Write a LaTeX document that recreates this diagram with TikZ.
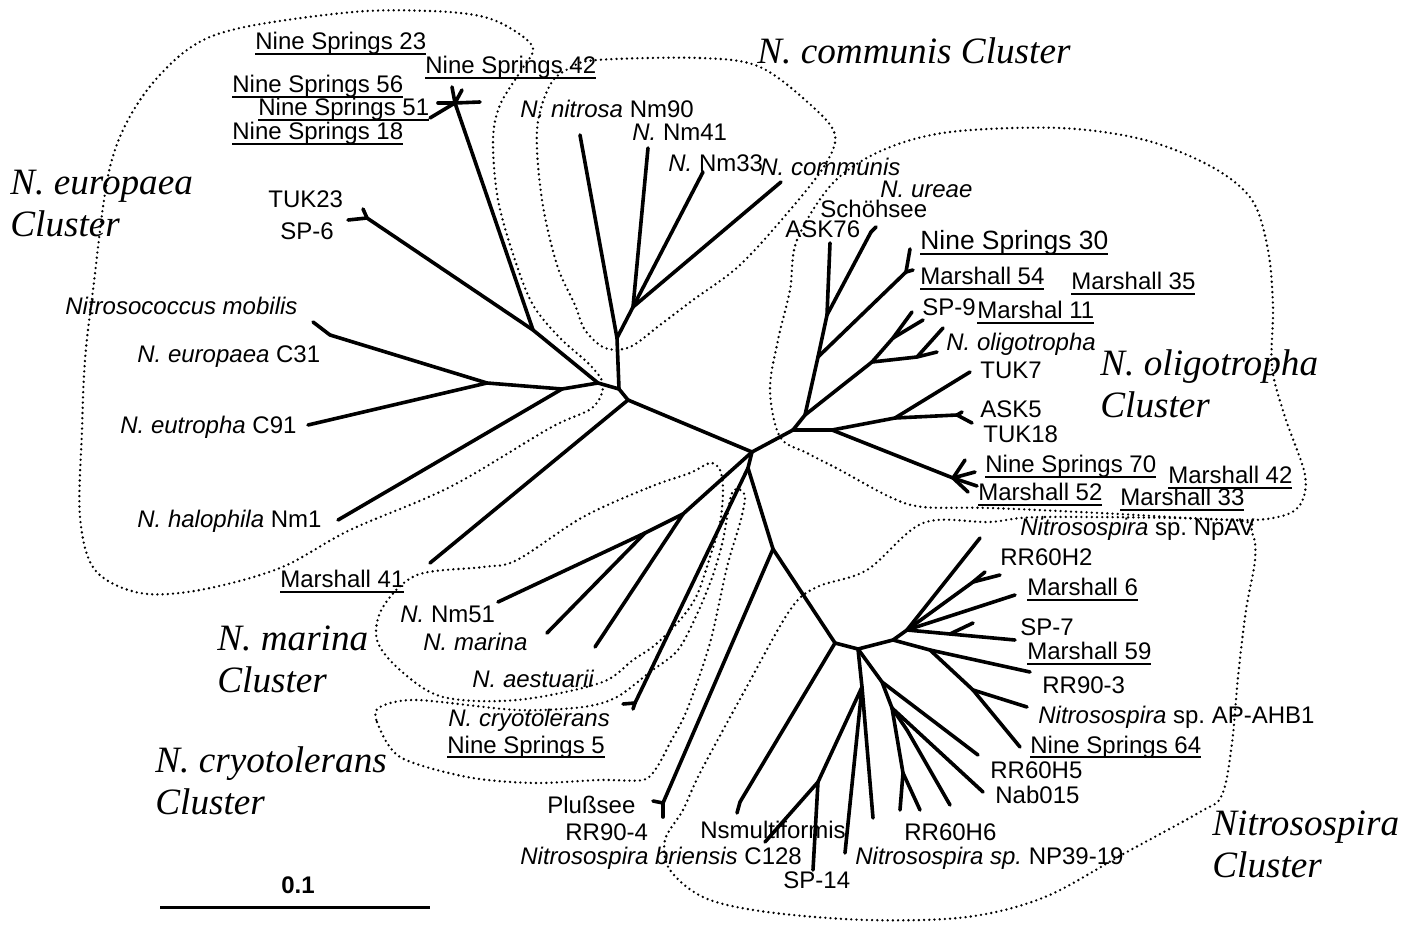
\documentclass[tikz,border=0pt]{standalone}
\usepackage{fontspec}
\setmainfont{Liberation Sans}
\newfontfamily\clusterfont{Liberation Serif}
\newcommand{\undl}[1]{\setbox0=\hbox{#1}\rlap{\rule[-2.6pt]{\wd0}{1pt}}\box0}
\frenchspacing
\tikzset{
  branch/.style={line width=1.8pt, line cap=round, line join=round},
  hull/.style={line width=1.3pt, line cap=round, dash pattern=on 0pt off 2.6pt},
  taxon/.style={inner sep=0pt, anchor=base west, font=\fontsize{12}{14}\selectfont},
  clade/.style={inner sep=0pt, anchor=base west, align=left, font=\clusterfont\itshape\fontsize{18.6}{21}\selectfont},
}

\begin{document}
\begin{tikzpicture}[x=0.5pt, y=-0.5pt]
  \useasboundingbox (0,0) rectangle (1405,925);

  % junctions
  \coordinate (c0) at (752,452);
  \coordinate (l1) at (628,400);
  \coordinate (l2) at (619,389);
  \coordinate (l3) at (598,383);
  \coordinate (l4) at (533,330);
  \coordinate (l5) at (562,389);
  \coordinate (l6) at (487,383);
  \coordinate (l7) at (330,335);
  \coordinate (l8) at (367,218);
  \coordinate (l9) at (455,103);
  \coordinate (k1) at (617,338);
  \coordinate (k2) at (633,307);
  \coordinate (r1) at (793,430);
  \coordinate (r2) at (805,415);
  \coordinate (r3) at (818,357);
  \coordinate (r4) at (827,315);
  \coordinate (r5) at (871,232);
  \coordinate (r6) at (906,272);
  \coordinate (r7) at (872,362);
  \coordinate (r8) at (893,338);
  \coordinate (r9) at (917,357);
  \coordinate (r10) at (832,430);
  \coordinate (r11) at (895,418);
  \coordinate (r12) at (957,415);
  \coordinate (r13) at (953,478);
  \coordinate (d1) at (748,468);
  \coordinate (d2) at (773,549);
  \coordinate (d3) at (683,514);
  \coordinate (d4) at (645,533);
  \coordinate (d5) at (635,703);
  \coordinate (d6) at (663,803);
  \coordinate (d7) at (835,643);
  \coordinate (d8) at (740,802);
  \coordinate (d9) at (858,649);
  \coordinate (d10) at (893,640);
  \coordinate (d11) at (862,687);
  \coordinate (d12) at (818,782);
  \coordinate (d13) at (882,682);
  \coordinate (d14) at (892,708);
  \coordinate (d15) at (903,773);
  \coordinate (d16) at (907,730);
  \coordinate (d17) at (930,650);
  \coordinate (d18) at (973,690);
  \coordinate (d19) at (907,630);
  \coordinate (d20) at (973,582);
  \coordinate (d21) at (950,634);

  % tips
  \coordinate (t-m41) at (430,563);
  \coordinate (t-hal) at (338,520);
  \coordinate (t-c91) at (308,425);
  \coordinate (t-mob) at (313,322);
  \coordinate (t-tuk23) at (363,209);
  \coordinate (t-sp6) at (348,220);
  \coordinate (t-ns-a) at (452,87);
  \coordinate (t-ns-b) at (462,90);
  \coordinate (t-ns-c) at (438,103);
  \coordinate (t-ns-d) at (430,118);
  \coordinate (t-ns-e) at (480,102);
  \coordinate (t-nm90) at (580,135);
  \coordinate (t-nm41) at (648,148);
  \coordinate (t-nm33) at (703,172);
  \coordinate (t-com) at (781,182);
  \coordinate (t-ask76) at (830,243);
  \coordinate (t-sch) at (876,227);
  \coordinate (t-ns30) at (910,249);
  \coordinate (t-m54) at (913,270);
  \coordinate (t-sp9) at (912,312);
  \coordinate (t-m11) at (923,320);
  \coordinate (t-oli) at (943,328);
  \coordinate (t-m35) at (937,352);
  \coordinate (t-tuk7) at (970,372);
  \coordinate (t-ask5) at (962,412);
  \coordinate (t-tuk18) at (972,423);
  \coordinate (t-ns70) at (965,460);
  \coordinate (t-m42) at (975,472);
  \coordinate (t-m52) at (968,492);
  \coordinate (t-m33) at (977,486);
  \coordinate (t-nm51) at (498,602);
  \coordinate (t-mar) at (547,633);
  \coordinate (t-aes) at (595,647);
  \coordinate (t-cry) at (623,704);
  \coordinate (t-ns5) at (633,709);
  \coordinate (t-plu) at (653,801);
  \coordinate (t-rr904) at (663,817);
  \coordinate (t-nsm) at (737,813);
  \coordinate (t-c128) at (765,842);
  \coordinate (t-sp14) at (813,870);
  \coordinate (t-np-a) at (845,853);
  \coordinate (t-np-b) at (873,818);
  \coordinate (t-h6-a) at (900,810);
  \coordinate (t-h6-b) at (920,810);
  \coordinate (t-h6-c) at (950,805);
  \coordinate (t-nab) at (983,792);
  \coordinate (t-h5) at (978,755);
  \coordinate (t-ns64) at (1020,747);
  \coordinate (t-ahb) at (1027,707);
  \coordinate (t-rr903) at (1030,672);
  \coordinate (t-sp7) at (1015,640);
  \coordinate (t-sp7b) at (973,623);
  \coordinate (t-m6) at (1015,595);
  \coordinate (t-h2) at (1000,575);
  \coordinate (t-h2b) at (985,572);
  \coordinate (t-npav) at (980,538);

  % tree
  \foreach \a/\b in {c0/l1, l1/l2, l2/l3, l3/l4, l3/l5, l5/l6, l1/t-m41, l5/t-hal,
      l6/t-c91, l6/l7, l7/t-mob, l4/l8, l8/t-tuk23, l8/t-sp6, l4/l9,
      l9/t-ns-a, l9/t-ns-b, l9/t-ns-c, l9/t-ns-d, l9/t-ns-e,
      l2/k1, k1/t-nm90, k1/k2, k2/t-nm41, k2/t-nm33, k2/t-com,
      c0/r1, r1/r2, r2/r3, r3/r4, r4/t-ask76, r4/r5, r5/t-sch,
      r3/r6, r6/t-ns30, r6/t-m54, r2/r7, r7/r8, r8/t-sp9, r8/t-m11,
      r7/r9, r9/t-oli, r9/t-m35, r1/r10, r10/r11, r11/t-tuk7, r11/r12,
      r12/t-ask5, r12/t-tuk18, r10/r13, r13/t-ns70, r13/t-m42, r13/t-m52, r13/t-m33,
      c0/d1, d1/d2, c0/d3, d3/d4, d4/t-nm51, d4/t-mar, d3/t-aes,
      d1/d5, d5/t-cry, d5/t-ns5, d2/d6, d6/t-plu, d6/t-rr904,
      d2/d7, d7/d8, d8/t-nsm, d7/d9, d9/d10, d9/d11, d11/d12, d12/t-c128, d12/t-sp14,
      d11/t-np-a, d11/t-np-b, d9/d13, d13/t-h5, d13/d14, d14/t-nab, d14/d16, d16/t-h6-c,
      d14/d15, d15/t-h6-a, d15/t-h6-b,
      d10/d17, d17/t-rr903, d17/d18, d18/t-ahb, d18/t-ns64,
      d10/d19, d19/t-npav, d19/d20, d20/t-h2, d20/t-h2b, d19/t-m6, d19/d21, d21/t-sp7, d21/t-sp7b}
    \draw[branch] (\a) -- (\b);

  % cluster outlines
  \draw[hull] plot[smooth cycle, tension=0.55] coordinates {(353,12) (430,11) (480,16) (510,28) (533,48)
      (520,72) (500,105) (493,140) (498,200) (515,260) (533,305) (560,338) (590,365) (603,385)
      (592,408) (550,428) (450,487) (350,530) (280,568) (200,590) (140,593) (95,570) (80,517)
      (82,430) (85,360) (93,290) (110,167) (140,100) (187,50) (240,28)};
  \draw[hull] plot[smooth cycle, tension=0.55] coordinates {(597,60) (700,58) (760,67) (813,107)
      (835,135) (825,165) (790,210) (740,265) (693,300) (660,325) (630,347) (605,348) (585,330)
      (575,305) (557,265) (542,200) (537,130) (550,85) (570,68)};
  \draw[hull] plot[smooth cycle, tension=0.55] coordinates {(790,290) (797,240) (833,183) (883,150)
      (950,132) (1060,128) (1145,140) (1212,167) (1252,200) (1268,250) (1273,307) (1272,367)
      (1285,417) (1305,475) (1300,505) (1278,517) (1232,520) (1100,513) (990,508) (923,507)
      (890,497) (840,470) (807,453) (780,437) (770,390) (778,340)};
  \draw[hull] plot[smooth cycle, tension=0.55] coordinates {(990,522) (1045,517) (1232,520) (1252,533)
      (1255,560) (1246,610) (1238,677) (1232,743) (1222,795) (1200,812) (1125,853) (1045,897)
      (967,917) (867,920) (767,912) (705,898) (670,870) (665,840) (683,810) (700,773) (745,690)
      (790,610) (817,587) (867,570) (923,523)};
  \draw[hull] plot[smooth cycle, tension=0.55] coordinates {(583,517) (650,487) (690,473) (710,463)
      (720,470) (723,490) (720,523) (710,557) (697,595) (680,620) (655,645) (633,660) (600,683)
      (517,700) (443,697) (400,670) (377,640) (383,607) (417,575) (483,567) (517,560)};
  \draw[hull] plot[smooth cycle, tension=0.5] coordinates {(380,707) (377,722) (400,757) (467,777)
      (533,783) (600,780) (643,780) (657,767) (670,743) (687,710) (710,643) (727,567) (740,523)
      (745,497) (738,489) (731,496) (723,540) (713,575) (698,612) (678,650) (650,672) (617,697)
      (583,707) (517,710) (417,700)};

  % taxa
  \node[taxon] (n-ns23) at (255,50) {\undl{Nine Springs 23}};
  \node[taxon] (n-ns42) at (425,74) {\undl{Nine Springs 42}};
  \node[taxon] (n-ns56) at (232,93) {\undl{Nine Springs 56}};
  \node[taxon] (n-ns51) at (258,116) {\undl{Nine Springs 51}};
  \node[taxon] (n-ns18) at (232,140) {\undl{Nine Springs 18}};
  \node[taxon] (n-tuk23) at (268,208) {TUK23};
  \node[taxon] (n-sp6) at (280,240) {SP-6};
  \node[taxon] (n-mob) at (65,315) {\textit{Nitrosococcus mobilis}};
  \node[taxon] (n-c31) at (137,363) {\textit{N. europaea} C31};
  \node[taxon] (n-c91) at (120,434) {\textit{N. eutropha} C91};
  \node[taxon] (n-hal) at (137,528) {\textit{N. halophila} Nm1};
  \node[taxon] (n-m41) at (280,588) {\undl{Marshall 41}};
  \node[taxon] (n-nm90) at (520,118) {\textit{N. nitrosa} Nm90};
  \node[taxon] (n-nm41) at (632,141) {\textit{N.} Nm41};
  \node[taxon] (n-nm33) at (668,172) {\textit{N.} Nm33};
  \node[taxon] (n-com) at (760,176) {\textit{N. communis}};
  \node[taxon] (n-ure) at (880,198) {\textit{N. ureae}};
  \node[taxon] (n-sch) at (820,218) {Schöhsee};
  \node[taxon] (n-ask76) at (785,238) {ASK76};
  \node[taxon, font=\fontsize{13.2}{15}\selectfont] (n-ns30) at (920,250) {\undl{Nine Springs 30}};
  \node[taxon] (n-m54) at (920,285) {\undl{Marshall 54}};
  \node[taxon] (n-m35) at (1071,290) {\undl{Marshall 35}};
  \node[taxon] (n-sp9) at (922,316) {SP-9};
  \node[taxon] (n-m11) at (977,319) {\undl{Marshal 11}};
  \node[taxon] (n-oli) at (946,351) {\textit{N. oligotropha}};
  \node[taxon] (n-tuk7) at (980,379) {TUK7};
  \node[taxon] (n-ask5) at (980,418) {ASK5};
  \node[taxon] (n-tuk18) at (983,443) {TUK18};
  \node[taxon] (n-ns70) at (985,473) {\undl{Nine Springs 70}};
  \node[taxon] (n-m52) at (978,501) {\undl{Marshall 52}};
  \node[taxon] (n-m42) at (1168,484) {\undl{Marshall 42}};
  \node[taxon] (n-m33) at (1120,506) {\undl{Marshall 33}};
  \node[taxon] (n-npav) at (1020,536) {\textit{Nitrosospira} sp. NpAV};
  \node[taxon] (n-h2) at (1000,566) {RR60H2};
  \node[taxon] (n-m6) at (1027,596) {\undl{Marshall 6}};
  \node[taxon] (n-sp7) at (1020,635) {SP-7};
  \node[taxon] (n-m59) at (1027,660) {\undl{Marshall 59}};
  \node[taxon] (n-rr903) at (1042,693) {RR90-3};
  \node[taxon] (n-ahb) at (1038,723) {\textit{Nitrosospira} sp. AP-AHB1};
  \node[taxon] (n-ns64) at (1030,753) {\undl{Nine Springs 64}};
  \node[taxon] (n-h5) at (990,778) {RR60H5};
  \node[taxon] (n-nab) at (995,803) {Nab015};
  \node[taxon] (n-h6) at (904,840) {RR60H6};
  \node[taxon] (n-np39) at (855,864) {\textit{Nitrosospira sp.} NP39-19};
  \node[taxon] (n-sp14) at (783,888) {SP-14};
  \node[taxon] (n-c128) at (520,864) {\textit{Nitrosospira briensis} C128};
  \node[taxon] (n-nsm) at (700,838) {Nsmultiformis};
  \node[taxon] (n-rr904) at (565,840) {RR90-4};
  \node[taxon] (n-plu) at (547,813) {Plußsee};
  \node[taxon] (n-nm51) at (400,623) {\textit{N.} Nm51};
  \node[taxon] (n-mar) at (423,651) {\textit{N. marina}};
  \node[taxon] (n-aes) at (472,688) {\textit{N. aestuarii}};
  \node[taxon] (n-cry) at (448,726) {\textit{N. cryotolerans}};
  \node[taxon] (n-ns5) at (447,753) {\undl{Nine Springs 5}};

  % clusters (anchored at the baseline of the last line)
  \node[clade] (cl-com) at (757,64) {N. communis Cluster};
  \node[clade] (cl-eur) at (10,237) {N. europaea\\Cluster};
  \node[clade] (cl-oli) at (1100,418) {N. oligotropha\\Cluster};
  \node[clade] (cl-mar) at (217,692) {N. marina\\Cluster};
  \node[clade] (cl-cry) at (155,814) {N. cryotolerans\\Cluster};
  \node[clade] (cl-nsp) at (1212,877) {Nitrosospira\\Cluster};

  % scale bar
  \coordinate (s0) at (160,907);
  \coordinate (s1) at (430,907);
  \draw[line width=1.5pt] (s0) -- (s1);
  \node[font=\fontsize{12}{14}\selectfont\bfseries, inner sep=0pt] (sc) at (298,885) {0.1};
\end{tikzpicture}
\end{document}
